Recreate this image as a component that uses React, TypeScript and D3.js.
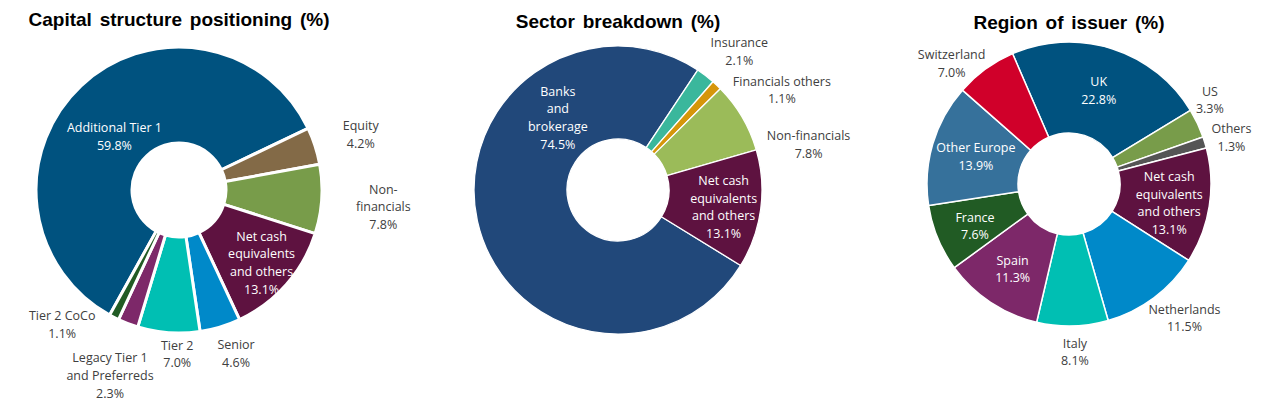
import React, { useEffect } from "react";
import * as d3 from "d3";

// ---------- DATA ----------
const capTitle = "Capital structure positioning (%)";
const capCategories = ["Additional Tier 1", "Equity", "Non-financials", "Net cash equivalents and others", "Senior", "Tier 2", "Legacy Tier 1 and Preferreds", "Tier 2 CoCo"];
const capValues = [59.8, 4.2, 7.8, 13.1, 4.6, 7.0, 2.3, 1.1];

const secTitle = "Sector breakdown (%)";
const secCategories = ["Banks and brokerage", "Insurance", "Financials others", "Non-financials", "Net cash equivalents and others"];
const secValues = [74.5, 2.1, 1.1, 7.8, 13.1];

const regTitle = "Region of issuer (%)";
const regCategories = ["UK", "US", "Others", "Net cash equivalents and others", "Netherlands", "Italy", "Spain", "France", "Other Europe", "Switzerland"];
const regValues = [22.8, 3.3, 1.3, 13.1, 11.5, 8.1, 11.3, 7.6, 13.9, 7.0];

// ---------- LAYOUT / STYLE ----------
const W = 1273;
const H = 410;
const deg = Math.PI / 180;

type LabelCfg = { lines: string[]; r: number; nudge: number; inside: boolean };
type ChartCfg = {
  title: string;
  categories: string[];
  values: number[];
  colors: string[];
  cx: number;
  cy: number;
  outer: number;
  inner: number;
  start: number;
  strokeW: number;
  titleY: number;
  labels: LabelCfg[];
};

const NC = ["Net cash", "equivalents", "and others"];

const charts: ChartCfg[] = [
  {
    title: capTitle,
    categories: capCategories,
    values: capValues,
    colors: ["#00527f", "#836a47", "#789c4a", "#5e1240", "#0089c9", "#00bfb3", "#7d2869", "#215b24"],
    cx: 179, cy: 190, outer: 143, inner: 47, start: -151, strokeW: 3, titleY: 26,
    labels: [
      { lines: ["Additional Tier 1"], r: 84, nudge: -7, inside: true },
      { lines: ["Equity"], r: 190, nudge: 1, inside: false },
      { lines: ["Non-", "financials"], r: 205, nudge: 1, inside: false },
      { lines: NC, r: 110, nudge: 0, inside: true },
      { lines: ["Senior"], r: 173, nudge: -2.5, inside: false },
      { lines: ["Tier 2"], r: 164, nudge: -3.5, inside: false },
      { lines: ["Legacy Tier 1", "and Preferreds"], r: 198, nudge: -0.5, inside: false },
      { lines: ["Tier 2 CoCo"], r: 178, nudge: 14, inside: false },
    ],
  },
  {
    title: secTitle,
    categories: secCategories,
    values: secValues,
    colors: ["#21487a", "#3ab79c", "#d6960a", "#9bbb59", "#5e1240"],
    cx: 618, cy: 190, outer: 144, inner: 51, start: 121.6, strokeW: 1.3, titleY: 28,
    labels: [
      { lines: ["Banks", "and", "brokerage"], r: 94, nudge: 62.6, inside: true },
      { lines: ["Insurance"], r: 184, nudge: 3.8, inside: false },
      { lines: ["Financials others"], r: 192, nudge: 15.3, inside: false },
      { lines: ["Non-financials"], r: 196, nudge: 17, inside: false },
      { lines: NC, r: 107, nudge: 1.5, inside: true },
    ],
  },
  {
    title: regTitle,
    categories: regCategories,
    values: regValues,
    colors: ["#00527f", "#789c4a", "#555555", "#5e1240", "#0089c9", "#00bfb3", "#7d2869", "#215b24", "#36719b", "#d0002a"],
    cx: 1069, cy: 184, outer: 142, inner: 51, start: -23.4, strokeW: 1.5, titleY: 29,
    labels: [
      { lines: ["UK"], r: 98, nudge: 0, inside: true },
      { lines: ["US"], r: 164, nudge: -5.5, inside: false },
      { lines: ["Others"], r: 169, nudge: 1, inside: false },
      { lines: NC, r: 102, nudge: 1.8, inside: true },
      { lines: ["Netherlands"], r: 177, nudge: -4, inside: false },
      { lines: ["Italy"], r: 168, nudge: -0.6, inside: false },
      { lines: ["Spain"], r: 102, nudge: 0, inside: true },
      { lines: ["France"], r: 103, nudge: -1.7, inside: true },
      { lines: ["Other Europe"], r: 97, nudge: 0, inside: true },
      { lines: ["Switzerland"], r: 168, nudge: -8.3, inside: false },
    ],
  },
];

const LABEL_FONT = "'Open Sans', 'Noto Sans', sans-serif";
const TITLE_FONT = "'Liberation Sans', Arial, sans-serif";
const LH = 17.7;

function Donut({ cfg }: { cfg: ChartCfg }) {
  const pie = d3
    .pie<number>()
    .sort(null)
    .value((d) => d)
    .startAngle(cfg.start * deg)
    .endAngle(cfg.start * deg + 2 * Math.PI);
  const arcs = pie(cfg.values);
  const arc = d3.arc<d3.PieArcDatum<number>>().innerRadius(cfg.inner).outerRadius(cfg.outer);
  return (
    <g>
      <text
        x={cfg.cx}
        y={cfg.titleY}
        textAnchor="middle"
        fontFamily={TITLE_FONT}
        fontWeight="bold"
        fontSize={19}
        fill="#000"
        wordSpacing={2.5}
      >
        {cfg.title}
      </text>
      <g transform={`translate(${cfg.cx},${cfg.cy})`}>
        {arcs.map((a, i) => (
          <path key={i} d={arc(a) || ""} fill={cfg.colors[i]} stroke="#fff" strokeWidth={cfg.strokeW} strokeLinejoin="round" />
        ))}
        {arcs.map((a, i) => {
          const lab = cfg.labels[i];
          const mid = (a.startAngle + a.endAngle) / 2 + lab.nudge * deg;
          const x = Math.sin(mid) * lab.r;
          const y = -Math.cos(mid) * lab.r;
          const lines = [...lab.lines, `${d3.format(".1f")(cfg.values[i])}%`];
          const y0 = y - ((lines.length - 1) * LH) / 2;
          return (
            <text
              key={"l" + i}
              x={x}
              textAnchor="middle"
              fontFamily={LABEL_FONT}
              fontSize={12.5}
              fill={lab.inside ? "#ffffff" : "#404040"}
            >
              {lines.map((ln, j) => (
                <tspan key={j} x={x} y={y0 + j * LH} dominantBaseline="central">
                  {ln}
                </tspan>
              ))}
            </text>
          );
        })}
      </g>
    </g>
  );
}

export default function App() {
  useEffect(() => {
    document.body.style.margin = "0";
    document.body.style.background = "#ffffff";
  }, []);
  return (
    <svg width={W} height={H} viewBox={`0 0 ${W} ${H}`} style={{ display: "block", background: "#fff" }}>
      <rect width={W} height={H} fill="#fff" />
      {charts.map((c, i) => (
        <Donut key={i} cfg={c} />
      ))}
    </svg>
  );
}
